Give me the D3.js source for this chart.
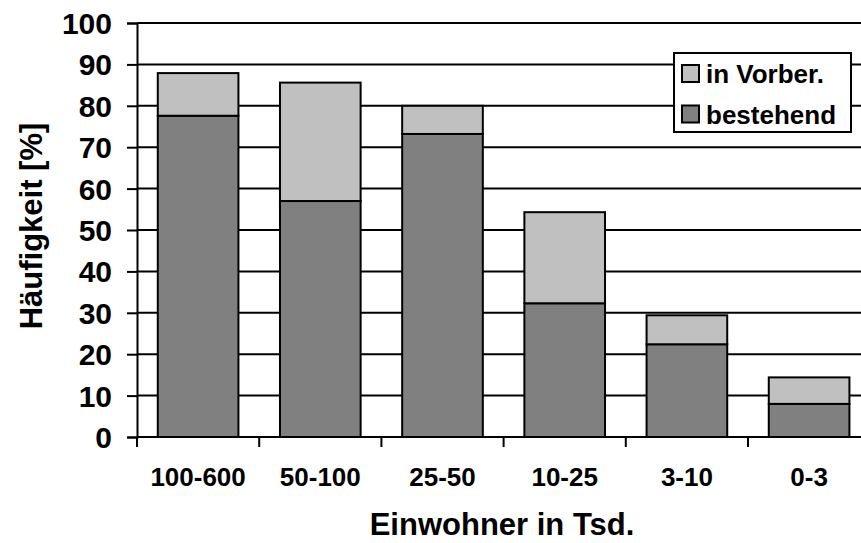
<!DOCTYPE html>
<html>
<head>
<meta charset="utf-8">
<script src="https://cdn.jsdelivr.net/npm/d3@7"></script>
<style>
  html, body { margin: 0; padding: 0; background: #fff; }
  svg { display: block; font-family: "Liberation Sans", Arial, sans-serif; font-weight: bold; }
</style>
</head>
<body>
<svg id="chart" width="861" height="543"></svg>
<script>
// Population classes (thousands of inhabitants)
const categories = ["100-600", "50-100", "25-50", "10-25", "3-10", "0-3"];
// Share of municipalities with an existing system [%]
const bestehend = [77.6, 57.0, 73.2, 32.3, 22.4, 8.0];
// Additional share in preparation [%]
const inVorber = [10.3, 28.6, 6.8, 22.0, 7.0, 6.4];
const yTicks = [0, 10, 20, 30, 40, 50, 60, 70, 80, 90, 100];
const seriesNames = ["bestehend", "in Vorber."];
const seriesColors = { "bestehend": "#808080", "in Vorber.": "#c0c0c0" };

const svg = d3.select("#chart");

const x0 = 137, step = 122.2;
const x = d3.scaleBand()
  .domain(categories)
  .range([x0, x0 + step * categories.length])
  .paddingInner(0.34)
  .paddingOuter(0.17);

const y = d3.scaleLinear().domain([0, 100]).range([437, 23]);

// horizontal gridlines
svg.append("g")
  .selectAll("line")
  .data(yTicks.filter(d => d > 0))
  .join("line")
  .attr("x1", x0).attr("x2", 870)
  .attr("y1", d => y(d)).attr("y2", d => y(d))
  .attr("stroke", "#000").attr("stroke-width", 2);

// stacked bars
const rows = categories.map((c, i) => ({ cat: c, "bestehend": bestehend[i], "in Vorber.": inVorber[i] }));
const stacked = d3.stack().keys(seriesNames)(rows);

svg.append("g")
  .selectAll("g")
  .data(stacked)
  .join("g")
  .attr("fill", s => seriesColors[s.key])
  .selectAll("rect")
  .data(s => s)
  .join("rect")
  .attr("x", d => x(d.data.cat))
  .attr("width", x.bandwidth())
  .attr("y", d => y(d[1]))
  .attr("height", d => y(d[0]) - y(d[1]))
  .attr("stroke", "#000")
  .attr("stroke-width", 2);

// y axis
const yAxis = svg.append("g")
  .attr("transform", `translate(${x0},0)`)
  .call(d3.axisLeft(y).tickValues(yTicks).tickSize(10).tickPadding(15));
yAxis.select(".domain").attr("stroke", "#000").attr("stroke-width", 2);
yAxis.selectAll(".tick line").attr("stroke", "#000").attr("stroke-width", 2);
yAxis.selectAll(".tick text")
  .attr("font-size", 30).attr("font-weight", "bold")
  .attr("font-family", "Liberation Sans, Arial, sans-serif")
  .attr("fill", "#000").attr("dy", "0.35em");

// x axis: ticks at band boundaries
const xAxisG = svg.append("g");
xAxisG.append("line")
  .attr("x1", x0).attr("x2", 870)
  .attr("y1", y(0)).attr("y2", y(0))
  .attr("stroke", "#000").attr("stroke-width", 2);
xAxisG.selectAll("line.tk")
  .data(categories)
  .join("line")
  .attr("class", "tk")
  .attr("x1", d => x(d) - x.step() * x.paddingOuter())
  .attr("x2", d => x(d) - x.step() * x.paddingOuter())
  .attr("y1", y(0)).attr("y2", y(0) + 10)
  .attr("stroke", "#000").attr("stroke-width", 2);
xAxisG.selectAll("text")
  .data(categories)
  .join("text")
  .attr("x", d => x(d) + x.bandwidth() / 2)
  .attr("y", 486)
  .attr("text-anchor", "middle")
  .attr("font-size", 26)
  .text(d => d);

// axis titles
svg.append("text")
  .attr("x", 502).attr("y", 535)
  .attr("text-anchor", "middle")
  .attr("font-size", 31)
  .text("Einwohner in Tsd.");
svg.append("text")
  .attr("transform", "translate(42,226) rotate(-90)")
  .attr("text-anchor", "middle")
  .attr("font-size", 31)
  .text("Häufigkeit [%]");

// legend
const legend = svg.append("g");
legend.append("rect")
  .attr("x", 674).attr("y", 53)
  .attr("width", 177).attr("height", 79)
  .attr("fill", "#fff").attr("stroke", "#000").attr("stroke-width", 2);
const legendItems = ["in Vorber.", "bestehend"];
legendItems.forEach((k, i) => {
  const yy = 65 + i * 40.5;
  legend.append("rect")
    .attr("x", 682).attr("y", yy)
    .attr("width", 17).attr("height", 17)
    .attr("fill", seriesColors[k]).attr("stroke", "#000").attr("stroke-width", 2);
  legend.append("text")
    .attr("x", 706).attr("y", yy + 18)
    .attr("font-size", 26)
    .text(k);
});
</script>
</body>
</html>
